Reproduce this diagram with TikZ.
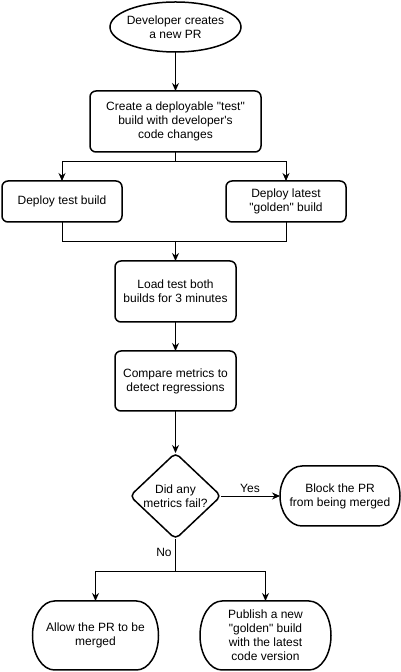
\documentclass[tikz,border=0pt]{standalone}
\usepackage{fontspec}
\setmainfont{Liberation Sans}[Ligatures=TeXOff]
\usetikzlibrary{arrows.meta,calc}
\newcommand\drawterm[3]{%
  \draw[shp] ([xshift=#2]#1.north west) -- ([xshift=-#2]#1.north east)
    arc[start angle=90,end angle=-90,x radius=#2,y radius=#3]
    -- ([xshift=#2]#1.south west)
    arc[start angle=270,end angle=90,x radius=#2,y radius=#3] -- cycle;}
\begin{document}
\begin{tikzpicture}[x=1pt,y=1pt,
  txt/.style={font=\fontsize{12}{14}\selectfont, align=center, inner sep=0pt, outer sep=0pt},
  box/.style={txt, draw, line width=1.5pt, rounded corners=6pt},
  conn/.style={line width=0.9pt},
  arr/.style={conn, -{Stealth[length=8pt,width=7pt]}},
  shp/.style={line width=1.5pt},
]
\useasboundingbox (0,0) rectangle (401,672);
\fill[white] (0,0) rectangle (401,672);

% start ellipse
\node[txt, minimum width=131pt, minimum height=50pt] (start) at (175.5,645) {Developer creates\\a new PR};
\draw[shp] (start.center) ellipse [x radius=65.5pt, y radius=25pt];

\node[box, minimum width=171pt, minimum height=61pt] (create) at (175.5,550.5) {Create a deployable "test"\\build with developer's\\code changes};

\node[box, minimum width=120pt, minimum height=41pt] (dep1) at (62,470.5) {Deploy test build};
\node[box, minimum width=120pt, minimum height=41pt] (dep2) at (286,470.5) {Deploy latest\\"golden" build};

\node[box, minimum width=121pt, minimum height=61pt] (load) at (175.5,380.5) {Load test both\\builds for 3 minutes};
\node[box, minimum width=121pt, minimum height=60pt] (cmp) at (175.5,291) {Compare metrics to\\detect regressions};

% decision diamond
\node[txt, minimum width=91pt, minimum height=86pt] (dec) at (175.5,176) {Did any\\metrics fail?};
\draw[shp, rounded corners=5pt] ($(dec.north)!0.5!(dec.east)$) -- (dec.east) -- (dec.south) -- (dec.west) -- (dec.north) -- cycle;

% terminators
\node[txt, minimum width=120pt, minimum height=60pt] (block) at (340,176) {Block the PR\\from being merged};
\drawterm{block}{22pt}{30pt}
\node[txt, minimum width=126pt, minimum height=69pt] (allow) at (95.5,36.5) {Allow the PR to be\\merged};
\drawterm{allow}{22pt}{34.5pt}
\node[txt, minimum width=131pt, minimum height=69pt] (pub) at (265.5,36.5) {Publish a new\\"golden" build\\with the latest\\code version};
\drawterm{pub}{22pt}{34.5pt}

% connectors
\coordinate (s1) at (175.5,511);
\coordinate (j1) at (175.5,431);
\coordinate (n1) at (175.5,101);

\draw[arr] (start.south) -- (create.north);
\draw[arr] (create.south) -- (s1) -| (dep1.north);
\draw[arr] (s1) -| (dep2.north);
\draw[conn] (dep1.south) |- (j1);
\draw[conn] (dep2.south) |- (j1);
\draw[arr] (j1) -- (load.north);
\draw[arr] (load.south) -- (cmp.north);
\draw[arr] (cmp.south) -- (dec.north);
\draw[arr] (dec.east) -- (block.west);
\draw[conn] (dec.south) -- (n1);
\draw[arr] (n1) -| (allow.north);
\draw[arr] (n1) -| (pub.north);

\node[txt] (yes) at (250,184) {Yes};
\node[txt] (no) at (164,120) {No};
\end{tikzpicture}
\end{document}
